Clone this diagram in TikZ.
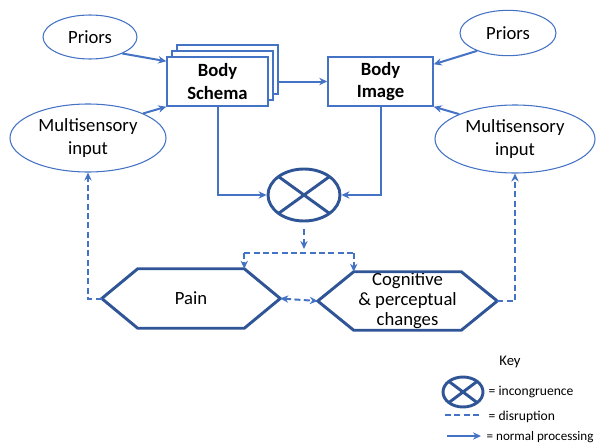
\documentclass[tikz,border=0pt]{standalone}
\usepackage{fontspec}
\setmainfont{Carlito}
\usetikzlibrary{arrows.meta,calc,shapes.geometric}
\definecolor{lineblue}{HTML}{4472C4}
\definecolor{darkblue}{HTML}{2F5597}

\begin{document}
\begin{tikzpicture}[x=0.75pt,y=-0.75pt,
  every node/.style={font=\fontsize{14}{16.5}\selectfont, align=center},
  oval/.style={ellipse, draw=lineblue, line width=0.8pt, inner sep=0pt, font=\fontsize{14}{17.5}\selectfont},
  box/.style={draw=lineblue, line width=1.1pt, fill=white, minimum width=75.75pt, minimum height=36.75pt, inner sep=0pt, font=\bfseries\fontsize{14}{17}\selectfont},
  incong/.style={ellipse, draw=darkblue, line width=2.2pt, inner sep=0pt,
    path picture={\draw[darkblue, line width=2.2pt] (path picture bounding box.north west) -- (path picture bounding box.south east) (path picture bounding box.north east) -- (path picture bounding box.south west);}},
  hexlabel/.style={inner sep=0pt},
  hex/.style={draw=darkblue, line width=2.2pt, line join=miter},
  arr/.style={draw=lineblue, line width=1.5pt, -{Stealth[length=6pt,width=5.5pt]}},
  dis/.style={draw=lineblue, line width=1.5pt, dash pattern=on 4.5pt off 2.5pt},
  disarr/.style={dis, -{Stealth[length=6pt,width=5.5pt]}},
  keytext/.style={anchor=west, font=\fontsize{10.2}{12}\selectfont}]
\useasboundingbox (0,0) rectangle (596,446);

% inputs
\node[oval, minimum width=70.5pt, minimum height=33pt] (priorsL) at (90,37) {Priors};
\node[oval, minimum width=72pt, minimum height=34pt] (priorsR) at (508,33) {Priors};
\node[oval, minimum width=117pt, minimum height=51pt] (multL) at (88,138) {Multisensory\\input};
\node[oval, minimum width=120pt, minimum height=51pt] (multR) at (515,139) {Multisensory\\input};

% body representations
\node[box] (schema3) at (227.5,69.5) {};
\node[box] (schema2) at (222.5,75.5) {};
\node[box] (schema) at (217.5,81.5) {Body\\Schema};
\node[box, minimum width=78.75pt] (image) at (380.5,81.5) {Body\\Image};

\node[incong, minimum width=54pt, minimum height=39pt] (inc) at (304,195) {};

% outcomes
\node[hexlabel, minimum width=133.5pt, minimum height=44.25pt] (pain) at (191,298.5) {Pain};
\node[hexlabel, minimum width=134.25pt, minimum height=43.5pt, font=\fontsize{14}{15}\selectfont] (cog) at (407.5,301) {Cognitive\\\& perceptual\\changes};
\draw[hex] (pain.west) -- ($(pain.north west)+(36,0)$) coordinate (pain-nw) -- ($(pain.north east)+(-36,0)$) coordinate (pain-ne) -- (pain.east) -- ($(pain.south east)+(-36,0)$) -- ($(pain.south west)+(36,0)$) -- cycle;
\draw[hex] (cog.west) -- ($(cog.north west)+(36,0)$) coordinate (cog-nw) -- ($(cog.north east)+(-36,0)$) coordinate (cog-ne) -- (cog.east) -- ($(cog.south east)+(-36,0)$) -- ($(cog.south west)+(36,0)$) -- cycle;

% normal processing
\draw[arr] (priorsL.-27) -- ($(schema.north west)+(0,5)$);
\draw[arr] (multL.24) -- (schema.south west);
\draw[arr] (priorsR.-150) -- ($(image.north east)+(0,8)$);
\draw[arr] (multR.156) -- (image.south east);
\draw[arr] (schema.east -| schema3.east) -- (image.west);
\draw[arr] (schema.south) |- (inc.west);
\draw[arr] (image.south) |- (inc.east);

% disruption
\coordinate (fork) at (304,253);
\draw[disarr] ($(inc.south)+(0,7)$) -- ($(fork)+(0,-4)$);
\draw[dis] (fork -| pain-ne) -- (fork -| cog-nw);
\draw[disarr] (fork -| pain-ne) -- (pain-ne);
\draw[disarr] (fork -| cog-nw) -- (cog-nw);
\draw[dis, {Stealth[length=6pt,width=5.5pt]}-{Stealth[length=6pt,width=5.5pt]}] (pain.east) -- (cog.west);
\draw[disarr] (pain.west) -| (multL.south);
\draw[disarr] (cog.east) -| (multR.south);

% key
\node[font=\fontsize{11}{13}\selectfont] (key) at (510,362) {Key};
\node[incong, minimum width=30pt, minimum height=22.5pt] (keyinc) at (463,392) {};
\node[keytext] (keyinc-t) at (484,392) {= incongruence};
\coordinate (keydis-a) at (445,415);
\coordinate (keydis-b) at (481,415);
\draw[dis] (keydis-a) -- (keydis-b);
\node[keytext] (keydis-t) at (484,417) {= disruption};
\coordinate (keyarr-a) at (447,436);
\coordinate (keyarr-b) at (481,436);
\draw[arr] (keyarr-a) -- (keyarr-b);
\node[keytext, font=\fontsize{9.8}{12}\selectfont] (keyarr-t) at (482,437) {= normal processing};
\end{tikzpicture}
\end{document}
